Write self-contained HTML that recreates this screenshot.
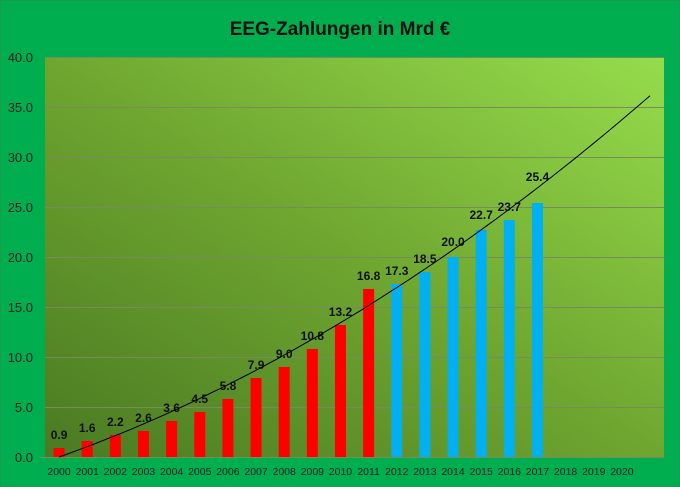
<!DOCTYPE html>
<html><head><meta charset="utf-8"><style>
body{margin:0;width:680px;height:487px;overflow:hidden;background:#00ae4f}
svg{display:block}
</style></head><body>
<svg width="680" height="487" viewBox="0 0 680 487" font-family="Liberation Sans, sans-serif">
<defs><linearGradient id="g" x1="0" y1="1" x2="1" y2="0">
<stop offset="0" stop-color="#4a7a22"/><stop offset="0.5" stop-color="#6fa630"/><stop offset="1" stop-color="#96dc4c"/></linearGradient></defs>
<rect x="0" y="0" width="680" height="487" fill="#00ae4f" stroke="#2a8a4a" stroke-width="1"/>
<text x="340" y="35" text-anchor="middle" font-size="19" font-weight="bold" fill="#111">EEG-Zahlungen in Mrd €</text>
<rect x="45" y="57" width="619" height="400" fill="url(#g)"/>
<g stroke="#7a8a60" stroke-width="1">
<line x1="45" y1="57.5" x2="664" y2="57.5"/><line x1="45" y1="107.5" x2="664" y2="107.5"/><line x1="45" y1="157.5" x2="664" y2="157.5"/><line x1="45" y1="207.5" x2="664" y2="207.5"/><line x1="45" y1="257.5" x2="664" y2="257.5"/><line x1="45" y1="307.5" x2="664" y2="307.5"/><line x1="45" y1="357.5" x2="664" y2="357.5"/><line x1="45" y1="407.5" x2="664" y2="407.5"/><line x1="40" y1="457.5" x2="664" y2="457.5"/>
</g>
<g font-size="13" fill="#222" text-anchor="end">
<text x="33" y="62">40.0</text><text x="33" y="112">35.0</text><text x="33" y="162">30.0</text><text x="33" y="212">25.0</text><text x="33" y="262">20.0</text><text x="33" y="312">15.0</text><text x="33" y="362">10.0</text><text x="33" y="412">5.0</text><text x="33" y="462">0.0</text>
</g>
<g id="bars"></g>
<g id="lab" font-size="10.5" fill="#222" text-anchor="middle"></g>
<g id="vals" font-size="12" font-weight="bold" fill="#111" text-anchor="middle"></g>
<polyline id="trend" fill="none" stroke="#000" stroke-width="1"/>
</svg>
<script>
var v=[0.9,1.6,2.2,2.6,3.6,4.5,5.8,7.9,9.0,10.8,13.2,16.8,17.3,18.5,20.0,22.7,23.7,25.4];
var ns="http://www.w3.org/2000/svg",W=28.14;
function cx(i){return 45+W*(i+0.5);}
function el(p,t,a,txt){var e=document.createElementNS(ns,t);for(var k in a)e.setAttribute(k,a[k]);if(txt)e.textContent=txt;document.getElementById(p).appendChild(e);}
v.forEach(function(d,i){var h=d*10;el('bars','rect',{x:cx(i)-5.5,y:457-h,width:11,height:h,fill:i<12?'#ff0000':'#00b0f0'});
var off=i==17?22:(i==14||i==15?11:9);
el('vals','text',{x:cx(i),y:457-h-off},d.toFixed(1));});
for(var i=0;i<21;i++)el('lab','text',{x:cx(i),y:475},String(2000+i));
var pts=[];for(var x=0;x<=21;x+=0.25){var y=0.0343*x*x+1.0*x;pts.push(cx(x).toFixed(1)+','+(457-y*10).toFixed(1));}
document.getElementById('trend').setAttribute('points',pts.join(' '));
</script>
</body></html>
